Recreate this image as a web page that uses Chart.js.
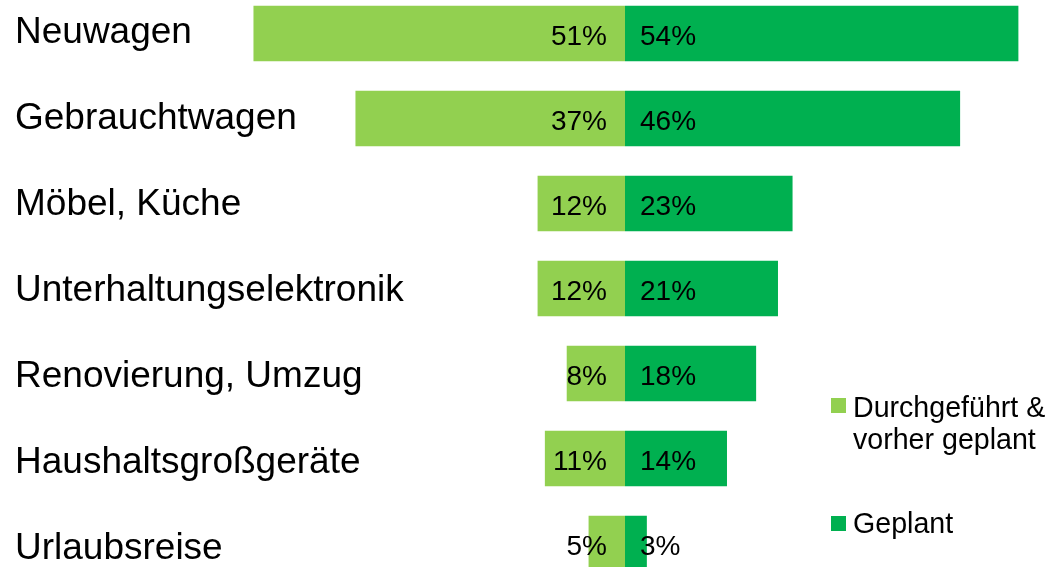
<!DOCTYPE html>
<html>
<head>
<meta charset="utf-8">
<script src="https://cdn.jsdelivr.net/npm/chart.js@4.4.0/dist/chart.umd.min.js"></script>
<style>
  html, body { margin: 0; padding: 0; background: #fff; overflow: hidden; width: 1052px; height: 567px; }
  #wrap { position: absolute; left: 0; top: -9px; width: 1052px; height: 595px; }
</style>
</head>
<body>
<div id="wrap"><canvas id="c" width="1052" height="595"></canvas></div>
<script>
const categories = ["Neuwagen", "Gebrauchtwagen", "Möbel, Küche", "Unterhaltungselektronik", "Renovierung, Umzug", "Haushaltsgroßgeräte", "Urlaubsreise"];
const durchgefuehrt = [51, 37, 12, 12, 8, 11, 5];
const geplant = [54, 46, 23, 21, 18, 14, 3];
const seriesNames = ["Durchgeführt &\nvorher geplant", "Geplant"];
const colors = ["#92D050", "#00B050"];

const FONT = "'Liberation Sans', Arial, sans-serif";

const labelsPlugin = {
  id: 'customLabels',
  afterDatasetsDraw(chart) {
    const ctx = chart.ctx;
    const xs = chart.scales.x, ys = chart.scales.y;
    const x0 = xs.getPixelForValue(0);
    ctx.save();
    ctx.fillStyle = '#000';
    // category labels
    ctx.font = '37px ' + FONT;
    ctx.textAlign = 'left';
    ctx.textBaseline = 'alphabetic';
    categories.forEach((c, i) => {
      const y = ys.getPixelForValue(i);
      ctx.fillText(c, 15, y + 9 + 1.05 * i);
    });
    // data labels
    ctx.font = '28px ' + FONT;
    categories.forEach((c, i) => {
      const y = ys.getPixelForValue(i);
      ctx.textAlign = 'right';
      ctx.fillText(durchgefuehrt[i] + '%', x0 - 18, y + 11);
      ctx.textAlign = 'left';
      ctx.fillText(geplant[i] + '%', x0 + 15, y + 11);
    });
    // legend
    ctx.font = '28.6px ' + FONT;
    ctx.textAlign = 'left';
    const off = 9; // canvas offset
    const items = [
      { lines: seriesNames[0].split('\n'), sqY: 398, baseY: 417, color: colors[0] },
      { lines: seriesNames[1].split('\n'), sqY: 516, baseY: 533, color: colors[1] }
    ];
    items.forEach(it => {
      ctx.fillStyle = it.color;
      ctx.fillRect(831, it.sqY + off, 15, 15);
      ctx.fillStyle = '#000';
      it.lines.forEach((ln, k) => {
        ctx.fillText(ln, 853, it.baseY + off + k * 31.5);
      });
    });
    ctx.restore();
  }
};

new Chart(document.getElementById('c'), {
  type: 'bar',
  data: {
    labels: categories,
    datasets: [
      { label: seriesNames[0].replace('\n', ' '), data: durchgefuehrt.map(v => -v), backgroundColor: colors[0], borderWidth: 0 },
      { label: seriesNames[1], data: geplant, backgroundColor: colors[1], borderWidth: 0 }
    ]
  },
  options: {
    indexAxis: 'y',
    responsive: false,
    animation: false,
    layout: { padding: 0 },
    datasets: { bar: { barPercentage: 0.655, categoryPercentage: 1.0 } },
    scales: {
      x: { stacked: true, display: false, min: -625 / 7.285, max: (1052 - 625) / 7.285 },
      y: { stacked: true, display: false }
    },
    plugins: { legend: { display: false }, tooltip: { enabled: false } }
  },
  plugins: [labelsPlugin]
});
</script>
</body>
</html>
